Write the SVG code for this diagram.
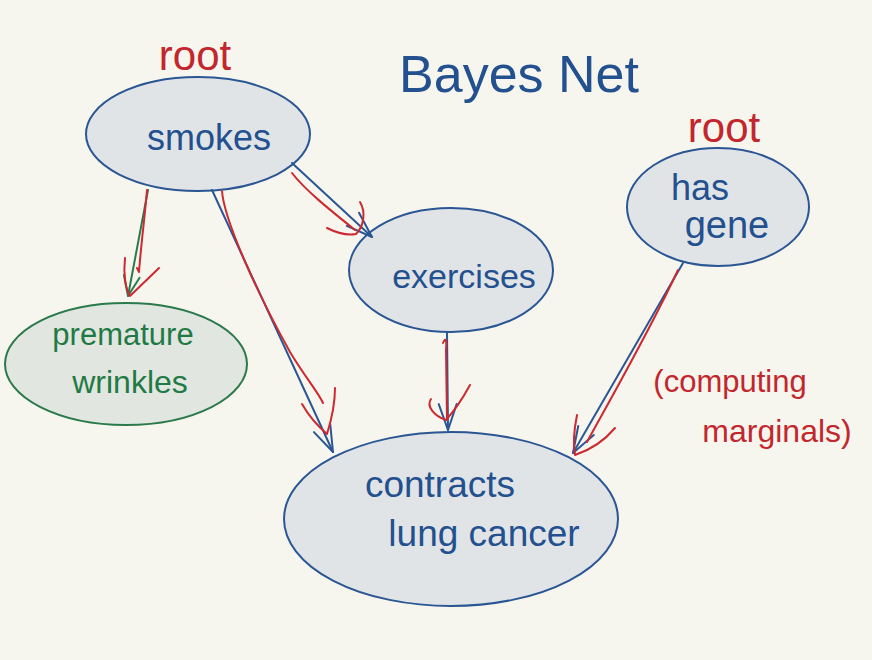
<svg xmlns="http://www.w3.org/2000/svg" width="872" height="660" viewBox="0 0 872 660">
  <defs>
    <style>
      .bg { fill: #f7f6ee; }
      .node { fill: #e1e4e7; stroke: #2a5694; stroke-width: 2; }
      .gnode { fill: #e2e6e1; stroke: #2a7a4c; stroke-width: 2; }
      .t { font-family: "Liberation Sans", Arial, sans-serif; text-anchor: middle; }
      .blue { fill: #23508f; }
      .red { fill: #c3262c; }
      .green { fill: #1f7a45; }
      .eb { fill: none; stroke: #2a5694; stroke-width: 2; stroke-linecap: round; stroke-linejoin: round; }
      .er { fill: none; stroke: #cc2a30; stroke-width: 2; stroke-linecap: round; stroke-linejoin: round; }
      .eg { fill: none; stroke: #2a7a4c; stroke-width: 2; stroke-linecap: round; stroke-linejoin: round; }
    </style>
    <marker id="ab" viewBox="-30 -12 32 24" markerWidth="32" markerHeight="24" refX="0" refY="0" orient="auto" markerUnits="userSpaceOnUse">
      <path d="M -26 -9 L 0 0 L -26 9" fill="none" stroke="#2a5694" stroke-width="2" stroke-linecap="round" stroke-linejoin="round"/>
    </marker>
    <marker id="ag" viewBox="-30 -12 32 24" markerWidth="32" markerHeight="24" refX="0" refY="0" orient="auto" markerUnits="userSpaceOnUse">
      <path d="M -20 -8 L 0 0 L -20 8" fill="none" stroke="#2a7a4c" stroke-width="2" stroke-linecap="round" stroke-linejoin="round"/>
    </marker>
  </defs>

  <rect class="bg" x="0" y="0" width="872" height="660"/>

  <text class="t blue" x="519" y="92" font-size="52">Bayes Net</text>
  <text class="t red" x="195" y="70" font-size="42">root</text>
  <text class="t red" x="724" y="142" font-size="42">root</text>
  <text class="t red" x="730" y="392" font-size="31">(computing</text>
  <text class="t red" x="777" y="442" font-size="32">marginals)</text>

  <g id="smokes">
    <ellipse class="node" cx="198" cy="134" rx="112" ry="57"/>
    <text class="t blue" x="209" y="150" font-size="36">smokes</text>
  </g>
  <g id="has-gene">
    <ellipse class="node" cx="718" cy="207" rx="91" ry="59"/>
    <text class="t blue" x="700" y="200" font-size="36">has</text>
    <text class="t blue" x="727" y="238" font-size="38">gene</text>
  </g>
  <g id="exercises">
    <ellipse class="node" cx="451" cy="270" rx="102" ry="62"/>
    <text class="t blue" x="464" y="288" font-size="34">exercises</text>
  </g>
  <g id="premature-wrinkles">
    <ellipse class="gnode" cx="126" cy="364" rx="121" ry="61"/>
    <text class="t green" x="123" y="345" font-size="31">premature</text>
    <text class="t green" x="130" y="393" font-size="32">wrinkles</text>
  </g>
  <g id="contracts-lung-cancer">
    <ellipse class="node" cx="451" cy="519" rx="167" ry="87"/>
    <text class="t blue" x="440" y="497" font-size="37">contracts</text>
    <text class="t blue" x="484" y="546" font-size="37">lung cancer</text>
  </g>

  <g id="connectors">
    <!-- smokes -> premature wrinkles -->
    <path class="eg" d="M 148 190 L 128 296" marker-end="url(#ag)"/>
    <path class="er" d="M 147 190 C 145 215 141 245 139 272 L 137 268"/>
    <path class="er" d="M 125 258 C 123 275 126 290 130 296 L 159 268"/>
    <!-- smokes -> contracts lung cancer -->
    <path class="eb" d="M 212 190 L 333 452" marker-end="url(#ab)"/>
    <path class="er" d="M 222 191 C 224 220 258 295 290 352 C 305 377 318 392 323 403"/>
    <path class="er" d="M 302 404 C 310 418 320 428 327 434 C 332 418 335 400 335 388"/>
    <!-- smokes -> exercises -->
    <path class="eb" d="M 292 163 L 372 237" marker-end="url(#ab)"/>
    <path class="er" d="M 292 173 C 305 190 330 210 355 230"/>
    <path class="er" d="M 360 202 C 366 212 364 226 356 234 C 345 236 335 232 327 228"/>
    <!-- exercises -> contracts lung cancer -->
    <path class="eb" d="M 447 332 L 448 430" marker-end="url(#ab)"/>
    <path class="er" d="M 443 343 C 445 338 447 338 446 350 L 447 420"/>
    <path class="er" d="M 431 399 C 426 406 434 416 446 420 C 455 410 464 396 470 385"/>
    <!-- has gene -> contracts lung cancer -->
    <path class="eb" d="M 683 263 L 573 453" marker-end="url(#ab)"/>
    <path class="er" d="M 678 270 C 650 330 610 400 587 442"/>
    <path class="er" d="M 577 415 C 574 430 573 445 575 455 C 590 450 605 440 615 428"/>
  </g>
</svg>
